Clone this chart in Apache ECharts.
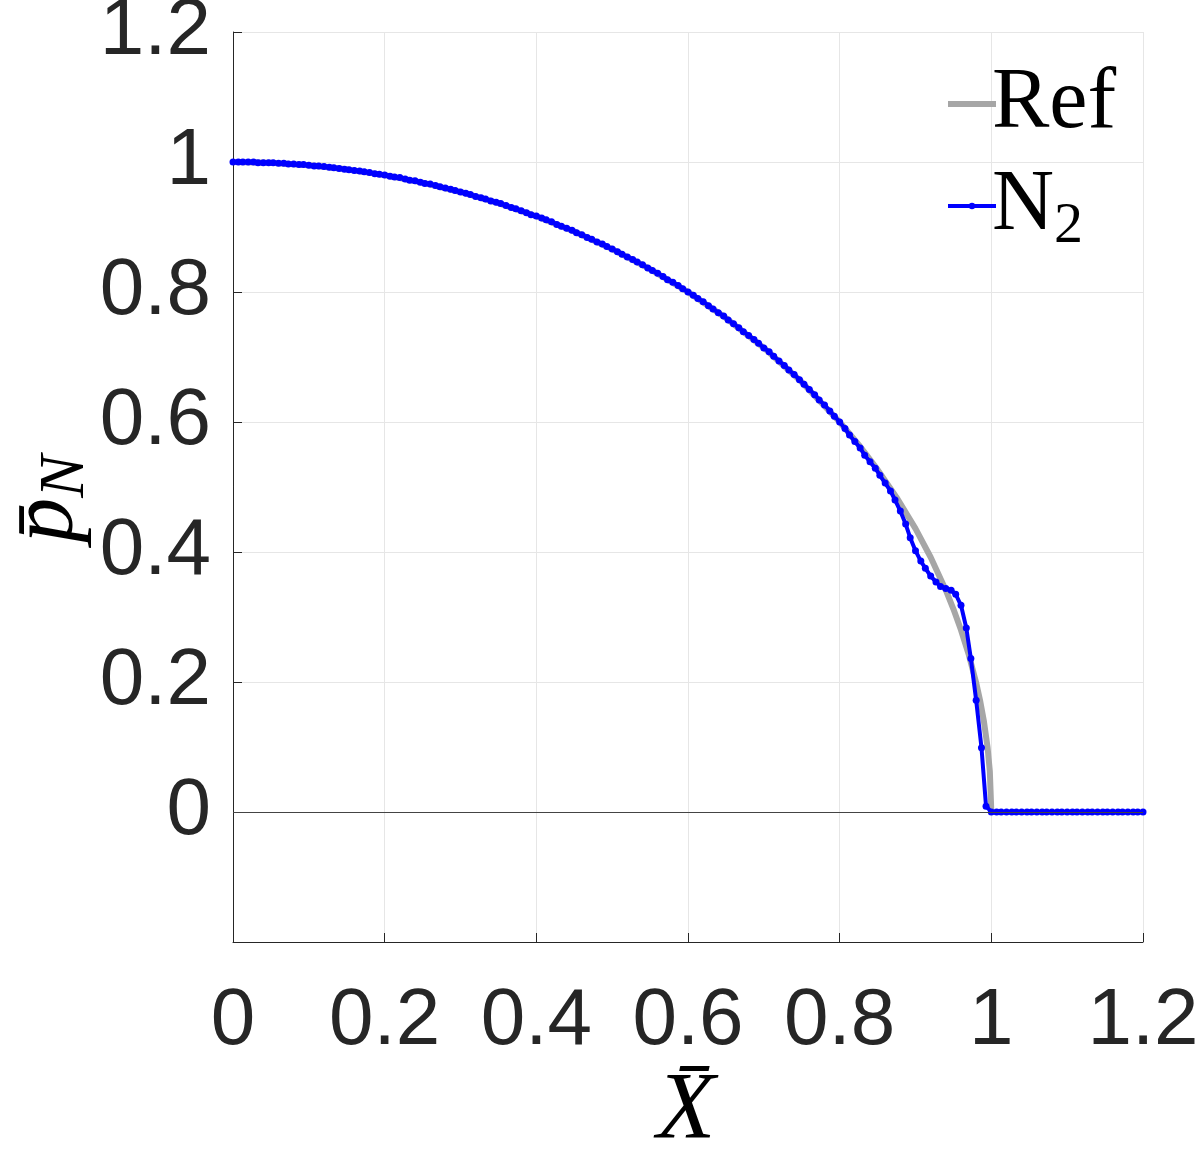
<!DOCTYPE html>
<html>
<head>
<meta charset="utf-8">
<script src="https://cdn.jsdelivr.net/npm/echarts@6/dist/echarts.min.js"></script>
<style>
  html, body { margin: 0; padding: 0; background: #fff; }
  #chart { width: 1203px; height: 1150px; }
</style>
</head>
<body>
<div id="chart"></div>
<script>
// reference curve (gray)
let refX = [0, 0.05, 0.1, 0.15, 0.2, 0.25, 0.3, 0.35, 0.4, 0.45, 0.5, 0.55, 0.6, 0.65, 0.7, 0.75,
    0.8, 0.825, 0.85, 0.875, 0.9, 0.92, 0.94, 0.95, 0.96, 0.97, 0.98, 0.985, 0.99, 0.995, 0.998, 1.0]
let refY = [1, 0.9988, 0.995, 0.9887, 0.9798, 0.9683, 0.9539, 0.9368, 0.9165, 0.893, 0.866, 0.8352, 0.8, 0.7599, 0.7141, 0.6614,
    0.6, 0.5651, 0.5268, 0.4841, 0.4359, 0.3919, 0.3412, 0.3123, 0.28, 0.2431, 0.199, 0.1726, 0.1411, 0.0999, 0.0632, 0]

// N2 solution (blue, with markers)
let n2X = [0, .007, .013, .02, .027, .033, .04, .047, .053, .06, .067, .073, .08, .087, .093, .1,
    .107, .113, .12, .127, .133, .14, .147, .153, .16, .167, .173, .18, .187, .193, .2,
    .207, .213, .22, .227, .233, .24, .247, .253, .26, .267, .273, .28, .287, .293, .3,
    .307, .313, .32, .327, .333, .34, .347, .353, .36, .367, .373, .38, .387, .393, .4,
    .407, .413, .42, .427, .433, .44, .447, .453, .46, .467, .473, .48, .487, .493, .5,
    .507, .513, .52, .527, .533, .54, .547, .553, .56, .567, .573, .58, .587, .593, .6,
    .607, .613, .62, .627, .633, .64, .647, .653, .66, .667, .673, .68, .687, .693, .7,
    .707, .713, .72, .727, .733, .74, .747, .753, .76, .767, .773, .78, .787, .793, .8,
    .807, .813, .82, .827, .833, .84, .847, .853, .86, .867, .873, .88, .887, .893, .9,
    .907, .913, .92, .927, .933, .94, .947, .953, .96, .967, .973, .98, .987, .993, 1,
    1.007, 1.013, 1.02, 1.027, 1.033, 1.04, 1.047, 1.053, 1.06, 1.067, 1.073, 1.08, 1.087, 1.093, 1.1,
    1.107, 1.113, 1.12, 1.127, 1.133, 1.14, 1.147, 1.153, 1.16, 1.167, 1.173, 1.18, 1.187, 1.193, 1.2]
let n2Y = [1, 1, 1, 1, 1, .999, .999, .999, .999, .998, .998, .997, .997, .996, .996, .995,
    .994, .994, .993, .992, .991, .990, .989, .988, .987, .986, .985, .984, .982, .981, .980,
    .978, .977, .976, .974, .972, .971, .969, .967, .966, .964, .962, .960, .958, .956, .954,
    .952, .950, .947, .945, .943, .940, .938, .936, .933, .930, .928, .925, .922, .919, .917,
    .914, .911, .908, .904, .901, .898, .895, .891, .888, .884, .881, .877, .874, .870, .866,
    .862, .858, .854, .850, .846, .842, .837, .833, .829, .824, .819, .815, .810, .805, .800,
    .795, .790, .785, .779, .774, .768, .763, .757, .751, .745, .739, .733, .727, .721, .714,
    .708, .701, .694, .687, .680, .673, .665, .658, .650, .642, .634, .626, .617, .609, .600,
    .590, .580, .570, .560, .549, .539, .529, .518, .506, .494, .480, .463, .443, .422, .402,
    .386, .375, .363, .354, .347, .344, .341, .335, .318, .283, .236, .172, .099, .009, 0,
    0, 0, 0, 0, 0, 0, 0, 0, 0, 0, 0, 0, 0, 0, 0,
    0, 0, 0, 0, 0, 0, 0, 0, 0, 0, 0, 0, 0, 0, 0]

let xTicks = [0, 0.2, 0.4, 0.6, 0.8, 1, 1.2]

let textColor = '#262626'
let sansFont = '"Liberation Sans", Arial, sans-serif'
let serifFont = '"Liberation Serif", "Times New Roman", serif'

function pairs(xs, ys) {
    let ret = []
    xs.forEach(function (x, i) {
        ret.push([x, ys[i]])
    })
    return ret
}

let myChart = echarts.init(document.getElementById('chart'))
let option = {
    animation: false,
    backgroundColor: '#fff',
    grid: {
        left: 233,
        right: 60,
        top: 32,
        bottom: 208,
        outerBoundsMode: 'none',
        containLabel: false
    },
    xAxis: {
        type: 'value',
        min: xTicks[0],
        max: xTicks[xTicks.length - 1],
        interval: 0.2,
        axisLine: { onZero: false, lineStyle: { color: textColor, width: 1 } },
        axisTick: { inside: true, length: 9, lineStyle: { color: textColor } },
        axisLabel: {
            color: textColor, fontSize: 80, fontFamily: sansFont, margin: 40,
            formatter: function (v) { return String(Math.round(v * 10) / 10) }
        },
        splitLine: { show: true, lineStyle: { color: '#e6e6e6', width: 1 } }
    },
    yAxis: {
        type: 'value',
        min: -0.2,
        max: 1.2,
        interval: 0.2,
        axisLine: { show: true, onZero: false, lineStyle: { color: textColor, width: 1 } },
        axisTick: { show: true, inside: true, length: 9, lineStyle: { color: textColor } },
        axisLabel: {
            color: textColor, fontSize: 80, fontFamily: sansFont, margin: 22,
            formatter: function (v) {
                if (v < -0.1) return ''
                return String(Math.round(v * 10) / 10)
            }
        },
        splitLine: { show: true, lineStyle: { color: '#e6e6e6', width: 1 } }
    },
    legend: {
        orient: 'vertical',
        left: 940,
        top: 49,
        itemWidth: 48,
        itemHeight: 8,
        itemGap: 2,
        data: [
            { name: 'Ref', itemStyle: { opacity: 0 }, lineStyle: { width: 6, color: '#a6a6a6' } },
            { name: 'N2', lineStyle: { width: 4, color: '#0000ff' } }
        ],
        formatter: function (name) {
            return name === 'N2' ? 'N{sub|2}' : name
        },
        textStyle: {
            color: '#000',
            fontFamily: serifFont,
            fontSize: 86,
            lineHeight: 100,
            padding: [0, 0, 0, -9],
            rich: {
                sub: { fontFamily: serifFont, fontSize: 58, lineHeight: 68, verticalAlign: 'bottom', color: '#000' }
            }
        }
    },
    graphic: [
        {
            type: 'text',
            x: 686,
            y: 1113,
            style: {
                text: 'X\u0304',
                font: 'italic 96px ' + serifFont,
                fill: '#000',
                align: 'center',
                verticalAlign: 'middle'
            }
        },
        {
            type: 'text',
            x: 48,
            y: 499,
            rotation: Math.PI / 2,
            style: {
                text: '{p|p\u0304}{n|N}',
                align: 'center',
                verticalAlign: 'middle',
                rich: {
                    p: { font: 'italic 90px ' + serifFont, fill: '#000', lineHeight: 100 },
                    n: { font: 'italic 64px ' + serifFont, fill: '#000', lineHeight: 64, verticalAlign: 'bottom' }
                }
            }
        }
    ],
    series: [
        {
            name: 'Ref',
            type: 'line',
            data: pairs(refX, refY),
            showSymbol: false,
            symbol: 'none',
            lineStyle: { color: '#a6a6a6', width: 6 },
            itemStyle: { color: '#a6a6a6' },
            z: 2,
            markLine: {
                silent: true,
                symbol: 'none',
                label: { show: false },
                lineStyle: { color: '#444', width: 1, type: 'solid' },
                data: [{ yAxis: 0 }]
            }
        },
        {
            name: 'N2',
            type: 'line',
            data: pairs(n2X, n2Y),
            symbol: 'circle',
            symbolSize: 7,
            showAllSymbol: true,
            lineStyle: { color: '#0000ff', width: 4 },
            itemStyle: { color: '#0000ff' },
            z: 3
        }
    ]
}
myChart.setOption(option)
</script>
</body>
</html>
